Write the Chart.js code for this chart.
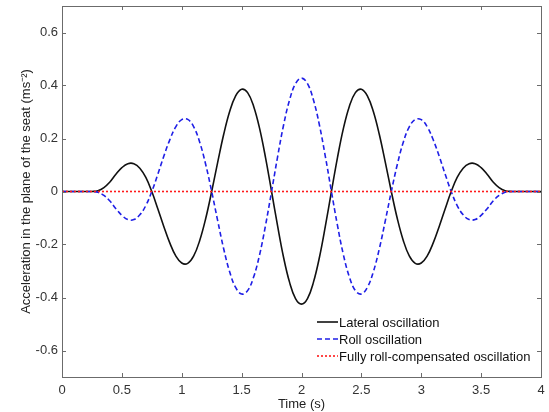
<!DOCTYPE html>
<html><head><meta charset="utf-8">
<script src="https://cdn.jsdelivr.net/npm/chart.js@4/dist/chart.umd.min.js"></script>
<style>html,body{margin:0;padding:0;background:#fff}#w{width:549px;height:412px}</style>
</head><body><div id="w"><canvas id="c" width="549" height="412"></canvas></div>
<script>
const timeValues = [0,0.05,0.1,0.15,0.2,0.25,0.3,0.35,0.4,0.45,0.5,0.55,0.6,0.65,0.7,0.75,0.8,0.85,0.9,0.95,
 1,1.05,1.1,1.15,1.2,1.25,1.3,1.35,1.4,1.45,1.5,1.55,1.6,1.65,1.7,1.75,1.8,1.85,1.9,1.95,
 2,2.05,2.1,2.15,2.2,2.25,2.3,2.35,2.4,2.45,2.5,2.55,2.6,2.65,2.7,2.75,2.8,2.85,2.9,2.95,
 3,3.05,3.1,3.15,3.2,3.25,3.3,3.35,3.4,3.45,3.5,3.55,3.6,3.65,3.7,3.75,3.8,3.85,3.9,3.95,4];
const lateralValues = [0,0,0,0,0,0,0.003,0.015,0.036,0.065,0.090,0.105,0.105,0.088,0.053,0,
 -0.065,-0.132,-0.194,-0.243,-0.270,-0.271,-0.243,-0.185,-0.102,0,
 0.110,0.215,0.302,0.361,0.386,0.373,0.322,0.238,0.127,0,
 -0.129,-0.248,-0.342,-0.404,-0.425,-0.404,-0.342,-0.248,-0.129,0,
 0.127,0.238,0.322,0.373,0.386,0.361,0.302,0.215,0.110,0,
 -0.102,-0.185,-0.243,-0.271,-0.270,-0.243,-0.194,-0.132,-0.065,0,
 0.053,0.088,0.105,0.105,0.090,0.065,0.036,0.015,0.003,0,0,0,0,0,0];
const rollValues = [0,0,0,0,0,0,-0.003,-0.015,-0.036,-0.065,-0.090,-0.106,-0.106,-0.088,-0.053,0,
 0.065,0.133,0.195,0.244,0.271,0.272,0.244,0.186,0.102,0,
 -0.110,-0.216,-0.303,-0.362,-0.387,-0.374,-0.323,-0.239,-0.127,0,
 0.130,0.250,0.345,0.407,0.428,0.407,0.345,0.250,0.130,0,
 -0.127,-0.239,-0.323,-0.374,-0.387,-0.362,-0.303,-0.216,-0.110,0,
 0.102,0.186,0.244,0.272,0.271,0.244,0.195,0.133,0.065,0,
 -0.053,-0.088,-0.106,-0.106,-0.090,-0.065,-0.036,-0.015,-0.003,0,0,0,0,0,0];
const compTime = [0,4];
const compValues = [0,0];
const xTicks = [0,0.5,1,1.5,2,2.5,3,3.5,4];
const yTicks = [-0.6,-0.4,-0.2,0,0.2,0.4,0.6];
const seriesNames = ['Lateral oscillation','Roll oscillation','Fully roll-compensated oscillation'];

const FONT = "'Liberation Sans', Arial, sans-serif";
const pts = (xs, ys) => xs.map((t,i)=>({x:t,y:ys[i]}));

const framePlugin = {
  id:'frame',
  afterDraw(chart){
    const {ctx, chartArea:{left,right,top,bottom}, scales:{x,y}} = chart;
    ctx.save();
    ctx.strokeStyle='#6b6b6b'; ctx.lineWidth=1;
    ctx.strokeRect(Math.round(left)+0.5, Math.round(top)+0.5, Math.round(right-left), Math.round(bottom-top));
    ctx.beginPath();
    xTicks.forEach(v=>{const p=Math.round(x.getPixelForValue(v))+0.5;
      ctx.moveTo(p,bottom); ctx.lineTo(p,bottom-4); ctx.moveTo(p,top); ctx.lineTo(p,top+4);});
    yTicks.forEach(v=>{const p=Math.round(y.getPixelForValue(v))+0.5;
      ctx.moveTo(left,p); ctx.lineTo(left+4,p); ctx.moveTo(right,p); ctx.lineTo(right-4,p);});
    ctx.stroke();
    // legend
    const ds = chart.data.datasets;
    const lx = right-224, rows=[bottom-55,bottom-38,bottom-21];
    ctx.font = '13px '+FONT; ctx.textBaseline='middle'; ctx.fillStyle='#111';
    ds.forEach((d,i)=>{
      ctx.beginPath(); ctx.strokeStyle=d.borderColor; ctx.lineWidth=d.borderWidth;
      ctx.setLineDash(d.borderDash||[]);
      ctx.moveTo(lx,rows[i]); ctx.lineTo(lx+21,rows[i]); ctx.stroke();
      ctx.setLineDash([]);
      ctx.fillText(seriesNames[i], lx+22, rows[i]+1);
    });
    ctx.restore();
  }
};

new Chart(document.getElementById('c'), {
  type:'line',
  data:{datasets:[
    {label:seriesNames[0], data:pts(timeValues,lateralValues), borderColor:'#111111', borderWidth:1.6, pointRadius:0, tension:0.4, fill:false, order:2},
    {label:seriesNames[1], data:pts(timeValues,rollValues), borderColor:'#1f1fe6', borderWidth:1.6, borderDash:[5,3], pointRadius:0, tension:0.4, fill:false, order:1},
    {label:seriesNames[2], data:pts(compTime,compValues), borderColor:'#ff1a1a', borderWidth:1.6, borderDash:[2,2], pointRadius:0, tension:0, fill:false, order:0}
  ]},
  options:{
    responsive:false, animation:false, devicePixelRatio:1,
    layout:{padding:{top:6,right:8,left:0,bottom:0}},
    plugins:{legend:{display:false}, tooltip:{enabled:false}},
    scales:{
      x:{type:'linear', min:0, max:4,
        afterBuildTicks(s){s.ticks = xTicks.map(v=>({value:v}));},
        afterFit(s){s.height=35; s.paddingLeft=0; s.paddingRight=0;},
        grid:{display:false, drawTicks:false}, border:{display:false},
        ticks:{color:'#333', font:{family:FONT,size:13}, padding:6, maxRotation:0, callback:v=>String(v)},
        title:{display:true, text:'Time (s)', color:'#222', font:{family:FONT,size:13}, padding:{top:0,bottom:0}}
      },
      y:{type:'linear', min:-0.7, max:0.7,
        afterBuildTicks(s){s.ticks = yTicks.map(v=>({value:v}));},
        afterFit(s){s.width=62; s.paddingTop=0; s.paddingBottom=0;},
        grid:{display:false, drawTicks:false}, border:{display:false},
        ticks:{color:'#333', font:{family:FONT,size:13}, padding:4, callback:v=>String(v)},
        title:{display:true, text:'Acceleration in the plane of the seat (ms\u207B\u00B2)', color:'#222', font:{family:FONT,size:13}, padding:{top:19,bottom:0}}
      }
    }
  },
  plugins:[framePlugin]
});
</script></body></html>
